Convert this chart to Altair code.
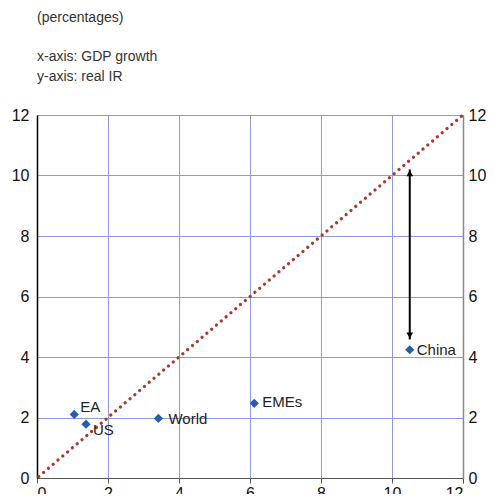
import altair as alt
import pandas as pd

countries = ["EA", "US", "World", "EMEs", "China"]
gdp_growth = [1.05, 1.38, 3.42, 6.12, 10.5]
real_ir = [2.1, 1.78, 1.97, 2.47, 4.24]

diag_x = [0.05, 12]
diag_y = [0.05, 12]

arrow_x = 10.5
arrow_low = 4.58
arrow_high = 10.2

ticks = [0, 2, 4, 6, 8, 10, 12]
header_lines = ["(percentages)", "x-axis: GDP growth", "y-axis: real IR"]

FONT = "Liberation Sans"

pts = pd.DataFrame({"name": countries, "x": gdp_growth, "y": real_ir})
diag = pd.DataFrame({"x": diag_x, "y": diag_y})
arr = pd.DataFrame({"x": [arrow_x], "y": [arrow_low], "y2": [arrow_high]})
hdr = pd.DataFrame({"t": header_lines})

xs = alt.Scale(domain=[0, 12], nice=False, zero=True)
ys = alt.Scale(domain=[0, 12], nice=False, zero=True)

x_axis = alt.Axis(values=ticks, grid=True, gridColor="#8e9ad6", gridWidth=1,
                  domainColor="#555555", tickColor="#555555", tickSize=5,
                  labelFontSize=16, labelFont=FONT, labelColor="#111111",
                  title=None, labelPadding=2, orient="bottom")
y_axis_left = alt.Axis(values=ticks, grid=True, gridColor="#8e9ad6", gridWidth=1,
                       domainColor="#000000", domainWidth=1.5, ticks=False,
                       labelFontSize=16, labelFont=FONT, labelColor="#111111",
                       title=None, labelPadding=8, orient="left")
y_axis_right = alt.Axis(values=ticks, grid=False, domainColor="#888888", domainWidth=1.5,
                        ticks=False, labelFontSize=16, labelFont=FONT,
                        labelColor="#111111", title=None, labelPadding=5,
                        orient="right")

def X(f="x"):
    return alt.X(f + ":Q", scale=xs, axis=None)

def Y(f="y"):
    return alt.Y(f + ":Q", scale=ys, axis=None)

base_grid = alt.Chart(diag).mark_line(opacity=0).encode(
    x=alt.X("x:Q", scale=xs, axis=x_axis),
    y=alt.Y("y:Q", scale=ys, axis=y_axis_left),
)
right_axis = alt.Chart(diag).mark_line(opacity=0).encode(
    x=X(),
    y=alt.Y("y:Q", scale=ys, axis=y_axis_right),
)

diag_line = alt.Chart(diag).mark_line(
    color="#a93a2c", strokeWidth=3.3, strokeDash=[0.01, 6.3], strokeCap="round"
).encode(x=X(), y=Y())

arrow_rule = alt.Chart(arr).mark_rule(color="#000000", strokeWidth=2).encode(
    x=X(), y=Y(), y2="y2:Q")
arrow_top = alt.Chart(arr).mark_point(shape="triangle-up", filled=True, color="#000000",
                                      size=45, opacity=1, yOffset=4).encode(
    x=X(), y=Y("y2"))
arrow_bot = alt.Chart(arr).mark_point(shape="triangle-down", filled=True, color="#000000",
                                      size=45, opacity=1, yOffset=-4).encode(
    x=X(), y=Y())

points = alt.Chart(pts).mark_point(shape="diamond", filled=True, color="#2a5caa",
                                   size=85, opacity=1).encode(x=X(), y=Y())

def label(names, dx, dy):
    return alt.Chart(pts).transform_filter(
        alt.FieldOneOfPredicate(field="name", oneOf=names)
    ).mark_text(align="left", baseline="middle", dx=dx, dy=dy, fontSize=15,
                font=FONT, color="#222222").encode(x=X(), y=Y(), text="name:N")

labels = [label(["EA"], 6, -7), label(["US"], 7, 6), label(["World"], 10, 1),
          label(["EMEs"], 8, -1), label(["China"], 7, 0)]

def header_text(line, ypix):
    return alt.Chart(hdr).transform_filter(
        alt.FieldEqualPredicate(field="t", equal=line)
    ).mark_text(align="left", baseline="middle", fontSize=14, font=FONT,
                color="#333333").encode(x=alt.value(0), y=alt.value(ypix), text="t:N")

headers = [header_text(header_lines[0], -97), header_text(header_lines[1], -58),
           header_text(header_lines[2], -38)]

chart = alt.layer(base_grid, right_axis, diag_line, arrow_rule, arrow_top, arrow_bot,
                  points, *labels, *headers).resolve_axis(
    x="independent", y="independent").properties(
    width=426, height=363,
    autosize=alt.AutoSizeParams(type="none"),
    padding={"left": 29, "top": 107, "right": 23, "bottom": 16},
).configure_view(stroke=None).configure_axis(domainCap="butt")

chart.save("out.html", embed_options={"renderer": "svg", "actions": False})
